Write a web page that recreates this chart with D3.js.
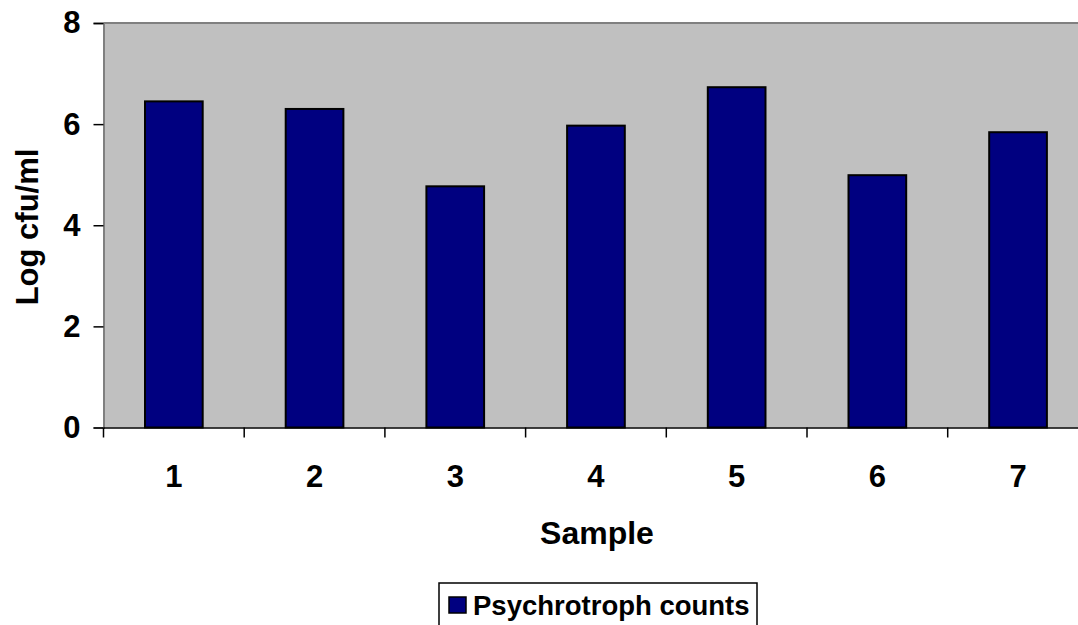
<!DOCTYPE html>
<html>
<head>
<meta charset="utf-8">
<script src="https://cdn.jsdelivr.net/npm/d3@7"></script>
<style>
  html, body { margin: 0; padding: 0; background: #fff; }
  svg { display: block; }
  text { font-family: "Liberation Sans", Arial, sans-serif; font-weight: bold; fill: #000; }
</style>
</head>
<body>
<svg id="chart" width="1078" height="625"></svg>
<script>
const categories = ["1", "2", "3", "4", "5", "6", "7"];
const values = [6.45, 6.30, 4.77, 5.97, 6.73, 4.99, 5.84];
const yTicks = [0, 2, 4, 6, 8];
const seriesName = "Psychrotroph counts";
const xTitle = "Sample";
const yTitle = "Log cfu/ml";

const svg = d3.select("#chart");
const plotLeft = 103.5, plotTop = 23, plotBottom = 427.5, step = 140.7;
const plotRight = plotLeft + step * categories.length;

const x = d3.scaleBand().domain(categories).range([plotLeft, plotRight]).padding(0);
const y = d3.scaleLinear().domain([0, 8]).range([plotBottom, plotTop]);
const barFrac = 0.41;

// plot background
svg.append("rect")
  .attr("x", plotLeft).attr("y", plotTop)
  .attr("width", plotRight - plotLeft).attr("height", plotBottom - plotTop)
  .attr("fill", "#C0C0C0");
// top border
svg.append("line").attr("x1", plotLeft).attr("x2", plotRight).attr("y1", plotTop).attr("y2", plotTop)
  .attr("stroke", "#808080").attr("stroke-width", 2);

// bars
svg.append("g").selectAll("rect").data(values).join("rect")
  .attr("x", (d, i) => x(categories[i]) + x.bandwidth() * (1 - barFrac) / 2)
  .attr("width", x.bandwidth() * barFrac)
  .attr("y", d => y(d))
  .attr("height", d => y(0) - y(d))
  .attr("fill", "#000080")
  .attr("stroke", "#000")
  .attr("stroke-width", 2);

// y axis
const yAxis = svg.append("g").attr("transform", `translate(${plotLeft},0)`)
  .call(d3.axisLeft(y).tickValues(yTicks).tickSize(10).tickPadding(13).tickFormat(d3.format("d")));
yAxis.select(".domain").attr("stroke", "#808080").attr("stroke-width", 2);
yAxis.selectAll(".tick line").attr("stroke", "#000").attr("stroke-width", 1.5);
yAxis.selectAll(".tick text").attr("font-size", 31).attr("font-family", "Liberation Sans, Arial, sans-serif").attr("font-weight", "bold").attr("fill", "#000");

// x axis: category boundaries as ticks
const xAxis = svg.append("g").attr("transform", `translate(0,${plotBottom})`)
  .call(d3.axisBottom(x).tickSize(0).tickPadding(37));
xAxis.select(".domain").attr("stroke", "#000").attr("stroke-width", 1.5);
xAxis.selectAll(".tick text").attr("font-size", 31).attr("font-family", "Liberation Sans, Arial, sans-serif").attr("font-weight", "bold").attr("fill", "#000");
xAxis.selectAll(".bound").data(categories).join("line")
  .attr("class", "bound")
  .attr("x1", d => x(d)).attr("x2", d => x(d))
  .attr("y1", 0).attr("y2", 10)
  .attr("stroke", "#000").attr("stroke-width", 1.5);

// axis titles
svg.append("text").attr("x", 597).attr("y", 533)
  .attr("text-anchor", "middle").attr("dominant-baseline", "central")
  .attr("font-size", 32).text(xTitle);
svg.append("text").attr("transform", "translate(27,227) rotate(-90)")
  .attr("text-anchor", "middle").attr("dominant-baseline", "central")
  .attr("font-size", 31).text(yTitle);

// legend
const lg = svg.append("g");
lg.append("rect").attr("x", 439).attr("y", 583).attr("width", 318).attr("height", 50)
  .attr("fill", "#fff").attr("stroke", "#000").attr("stroke-width", 1.5);
lg.append("rect").attr("x", 449).attr("y", 597).attr("width", 17).attr("height", 16)
  .attr("fill", "#000080").attr("stroke", "#000").attr("stroke-width", 1.5);
lg.append("text").attr("x", 473).attr("y", 605).attr("dominant-baseline", "central")
  .attr("font-size", 27.5).text(seriesName);
</script>
</body>
</html>
